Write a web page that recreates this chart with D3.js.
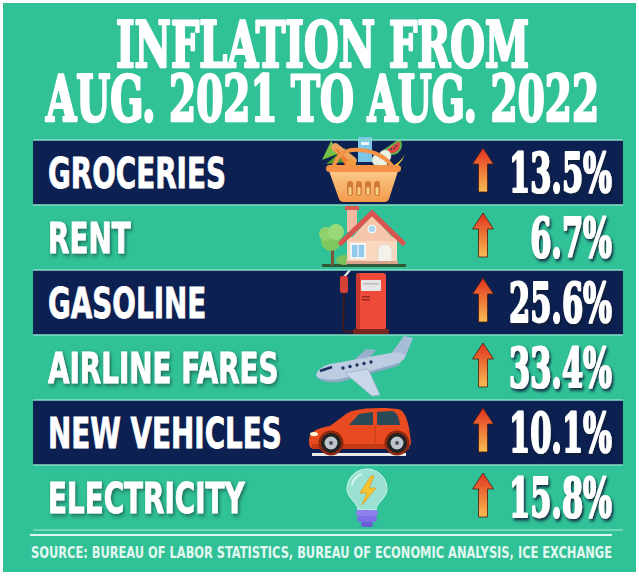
<!DOCTYPE html>
<html>
<head>
<meta charset="utf-8">
<script src="https://cdn.jsdelivr.net/npm/d3@7"></script>
<style>
  body { margin: 0; background: #fff; }
  svg { display: block; }
</style>
</head>
<body>
<div id="chart"></div>
<script>
// inflation infographic, aug 2021 -> aug 2022

const titleLines = ["INFLATION FROM", "AUG. 2021 TO AUG. 2022"];
const categories = ["GROCERIES", "RENT", "GASOLINE", "AIRLINE FARES", "NEW VEHICLES", "ELECTRICITY"];
const changes = [13.5, 6.7, 25.6, 33.4, 10.1, 15.8];
const sourceNote = "SOURCE: BUREAU OF LABOR STATISTICS, BUREAU OF ECONOMIC ANALYSIS, ICE EXCHANGE";

const W = 639, H = 576;
const green = "#31c197", navy = "#0c2151";
const slabFont = "'DejaVu Serif Condensed', 'DejaVu Serif', 'Liberation Serif', serif";
const sansFont = "'DejaVu Sans Condensed', 'DejaVu Sans', 'Liberation Sans', sans-serif";

const svg = d3.select("#chart").append("svg").attr("width", W).attr("height", H);
const defs = svg.append("defs");

const arrowGrad = defs.append("linearGradient").attr("id", "arrowGrad").attr("x1", 0).attr("y1", 0).attr("x2", 0).attr("y2", 1);
arrowGrad.append("stop").attr("offset", "0%").attr("stop-color", "#e2321e");
arrowGrad.append("stop").attr("offset", "100%").attr("stop-color", "#f8bd52");

const basketGrad = defs.append("linearGradient").attr("id", "basketGrad").attr("x1", 0).attr("y1", 0).attr("x2", 0).attr("y2", 1);
basketGrad.append("stop").attr("offset", "0%").attr("stop-color", "#fcc98a");
basketGrad.append("stop").attr("offset", "100%").attr("stop-color", "#f39a4c");

const valShadow = defs.append("filter").attr("id", "valShadow").attr("x", "-20%").attr("y", "-20%").attr("width", "150%").attr("height", "150%");
valShadow.append("feDropShadow").attr("dx", 2.5).attr("dy", 2.5).attr("stdDeviation", 1.5).attr("flood-color", "#0d1f3a").attr("flood-opacity", 0.9);
const lblShadow = defs.append("filter").attr("id", "lblShadow").attr("x", "-20%").attr("y", "-20%").attr("width", "150%").attr("height", "150%");
lblShadow.append("feDropShadow").attr("dx", 2).attr("dy", 2).attr("stdDeviation", 2).attr("flood-color", "#0d2a2a").attr("flood-opacity", 0.6);

// backdrop
svg.append("rect").attr("x", 3).attr("y", 3).attr("width", 633).attr("height", 569).attr("fill", green);

// title - heavy slab look: bold face plus a white stroke
svg.selectAll(".title").data(titleLines).enter().append("text")
  .attr("class", "title")
  .attr("x", (d, i) => i ? 46 : 116)
  .attr("y", (d, i) => i ? 121 : 67)
  .attr("textLength", (d, i) => i ? 553 : 413)
  .attr("lengthAdjust", "spacingAndGlyphs")
  .style("font-family", slabFont).style("font-stretch", "condensed").style("font-weight", "bold")
  .style("font-size", "63px").attr("fill", "#fff")
  .attr("stroke", "#fff").attr("stroke-width", 2.6).attr("stroke-linejoin", "round")
  .text(d => d);

// rows
const y = d3.scaleBand().domain(categories).range([140, 530]).padding(0);
const bw = y.bandwidth();

const rows = svg.selectAll(".row").data(categories.map((c, i) => ({ cat: c, value: changes[i], i })))
  .enter().append("g").attr("class", "row").attr("transform", d => `translate(0,${y(d.cat)})`);

rows.filter(d => d.i % 2 === 0).append("rect")
  .attr("x", 33).attr("y", 0).attr("width", 590).attr("height", bw).attr("fill", navy);

svg.selectAll(".sep").data(d3.range(categories.length + 1)).enter().append("rect")
  .attr("x", 33).attr("width", 590).attr("height", 1.5)
  .attr("y", k => (k < categories.length ? y(categories[k]) : y.range()[1]) - 0.75)
  .attr("fill", "#86dcc6");

const labels = rows.append("text")
  .style("font-family", sansFont).style("font-stretch", "condensed").style("font-weight", "bold").style("font-size", "42px")
  .attr("fill", "#fff").attr("stroke", "#fff").attr("stroke-width", 0.8)
  .attr("filter", d => d.i % 2 ? "url(#lblShadow)" : null)
  .text(d => d.cat);
// squeeze labels to the reference's condensed face (GROCERIES spans ~180px)
const lblSx = 178 / labels.node().getComputedTextLength();
labels.attr("transform", `translate(48,${bw / 2 + 15.5}) scale(${lblSx},1)`);

rows.append("path")
  .attr("d", "M483,8 L493.5,24 L487.5,24 L487.5,52 L478.5,52 L478.5,24 L472.5,24 Z")
  .attr("fill", "url(#arrowGrad)").attr("stroke", "#4a1c10").attr("stroke-width", 0.8);

const vals = rows.append("text")
  .attr("text-anchor", "end")
  .style("font-family", slabFont).style("font-stretch", "condensed").style("font-weight", "bold")
  .style("font-size", "55px").attr("fill", "#fff")
  .attr("stroke", "#fff").attr("stroke-width", 2.2).attr("stroke-linejoin", "round")
  .attr("filter", "url(#valShadow)")
  .text(d => d3.format(".1f")(d.value) + "%");
const valSx = 103 / vals.node().getComputedTextLength();
vals.attr("transform", `translate(612,${bw / 2 + 19.5}) scale(${valSx},1)`);

// icons (local coords relative to row top)
function basket(g) {
  g.append("path").attr("d", "M322,20 L331,1 L340,13 Z").attr("fill", "#74c043");
  g.append("path").attr("d", "M326,24 L345,8 L347,22 Z").attr("fill", "#4f9a2c");
  g.append("g").attr("transform", "translate(344,14) rotate(38)")
    .append("rect").attr("x", -15).attr("y", -4).attr("width", 30).attr("height", 8).attr("rx", 4).attr("fill", "#e9a45e");
  g.append("path").attr("d", "M334,6 L352,24 L346,27 Z").attr("fill", "#f07b2a");
  g.append("circle").attr("cx", 351).attr("cy", 24).attr("r", 5).attr("fill", "#f39a3e");
  g.append("rect").attr("x", 358).attr("y", -3).attr("width", 14).attr("height", 25).attr("fill", "#7cc7e8");
  g.append("rect").attr("x", 361).attr("y", 2).attr("width", 8).attr("height", 3).attr("fill", "#eaf6fb");
  const wm = g.append("g").attr("transform", "translate(392,5) rotate(-35)");
  wm.append("path").attr("d", "M-9,0 A9,9 0 0 0 9,0 Z").attr("fill", "#e34b4b").attr("stroke", "#5fb04a").attr("stroke-width", 2);
  [[-3, 3], [0, 4], [3, 3]].forEach(p => wm.append("circle").attr("cx", p[0]).attr("cy", p[1]).attr("r", 0.8).attr("fill", "#222"));
  [[378, 20, 6], [385, 16, 6], [382, 24, 5]].forEach(p => g.append("circle").attr("cx", p[0]).attr("cy", p[1]).attr("r", p[2]).attr("fill", "#eef2e6").attr("stroke", "#cfd8c0").attr("stroke-width", 0.6));
  g.append("path").attr("d", "M385,27 Q398,27 405,14 Q401,26 388,31 Z").attr("fill", "#f3cf3c");
  g.append("path").attr("d", "M333,29 Q338,8 360,10 Q384,12 394,29").attr("fill", "none").attr("stroke", "#f29447").attr("stroke-width", 4);
  g.append("path").attr("d", "M329,31 L398,31 L389,59 Q388,62 384,62 L344,62 Q340,62 339,59 Z").attr("fill", "url(#basketGrad)");
  g.append("rect").attr("x", 326).attr("y", 25).attr("width", 75).attr("height", 7).attr("rx", 3.5).attr("fill", "#f39245");
  [347, 356, 365, 374].forEach(x => {
    g.append("rect").attr("x", x).attr("y", 41).attr("width", 6).attr("height", 15).attr("rx", 3).attr("fill", "#d27a38");
    g.append("rect").attr("x", x + 1.5).attr("y", 47).attr("width", 3).attr("height", 8).attr("rx", 1.5).attr("fill", "#f6d27a");
  });
}

function house(g) {
  g.append("rect").attr("x", 322).attr("y", 59).attr("width", 84).attr("height", 3).attr("fill", "#2e5a35");
  g.append("rect").attr("x", 331).attr("y", 38).attr("width", 3).attr("height", 22).attr("fill", "#7a5535");
  g.append("circle").attr("cx", 331).attr("cy", 36).attr("r", 10).attr("fill", "#7fc860");
  g.append("circle").attr("cx", 326).attr("cy", 29).attr("r", 7).attr("fill", "#8fd16d");
  g.append("circle").attr("cx", 336).attr("cy", 27).attr("r", 8).attr("fill", "#9ad978");
  g.append("ellipse").attr("cx", 344).attr("cy", 55).attr("rx", 8).attr("ry", 5).attr("fill", "#7cc25c");
  g.append("rect").attr("x", 347).attr("y", 3).attr("width", 10).attr("height", 24).attr("fill", "#f2b8a0");
  g.append("rect").attr("x", 345).attr("y", 1).attr("width", 14).attr("height", 4).attr("fill", "#d35a4f");
  g.append("rect").attr("x", 347).attr("y", 32).attr("width", 50).attr("height", 26).attr("fill", "#fad7bf");
  g.append("path").attr("d", "M349,36 L372,10 L396,36 Z").attr("fill", "#f6c6ab");
  g.append("path").attr("d", "M341,38 L372,8 L403,38").attr("fill", "none").attr("stroke", "#d9534f").attr("stroke-width", 5).attr("stroke-linecap", "round");
  g.append("circle").attr("cx", 372).attr("cy", 24).attr("r", 4).attr("fill", "#a9d8f0").attr("stroke", "#fff").attr("stroke-width", 1);
  g.append("rect").attr("x", 351).attr("y", 39).attr("width", 14).attr("height", 14).attr("fill", "#90c9ec").attr("stroke", "#fff").attr("stroke-width", 1.5);
  g.append("rect").attr("x", 357.5).attr("y", 39).attr("width", 1).attr("height", 14).attr("fill", "#fff");
  g.append("path").attr("d", "M378,58 L378,43 Q385,35 392,43 L392,58 Z").attr("fill", "#f4f0ea").attr("stroke", "#e3d6ca");
  g.append("rect").attr("x", 346).attr("y", 56).attr("width", 52).attr("height", 3).attr("fill", "#d7a58a");
}

function pump(g) {
  g.append("path").attr("d", "M344,22 L343,58 Q343,62 350,62 L356,62").attr("fill", "none").attr("stroke", "#3b1d1d").attr("stroke-width", 2);
  g.append("line").attr("x1", 344).attr("y1", 7).attr("x2", 350).attr("y2", 0).attr("stroke", "#eee").attr("stroke-width", 2);
  g.append("rect").attr("x", 340).attr("y", 6).attr("width", 8).attr("height", 17).attr("rx", 2).attr("fill", "#d84236");
  g.append("rect").attr("x", 356).attr("y", 3).attr("width", 30).attr("height", 57).attr("rx", 3).attr("fill", "#ee4b3b");
  g.append("rect").attr("x", 356).attr("y", 4).attr("width", 4).attr("height", 55).attr("fill", "#c73a2d");
  g.append("rect").attr("x", 361).attr("y", 10).attr("width", 20).attr("height", 11).attr("rx", 1).attr("fill", "#e5e5e5");
  g.append("rect").attr("x", 363).attr("y", 13).attr("width", 16).attr("height", 1.5).attr("fill", "#bbb");
  g.append("rect").attr("x", 362).attr("y", 26).attr("width", 8).attr("height", 1.5).attr("fill", "#9d2a20");
  g.append("rect").attr("x", 362).attr("y", 29).attr("width", 8).attr("height", 1.5).attr("fill", "#9d2a20");
  g.append("rect").attr("x", 353).attr("y", 59).attr("width", 36).attr("height", 5).attr("rx", 1).attr("fill", "#7a2620");
}

function plane(g) {
  g.append("path").attr("d", "M352,27 L366,14 L376,15 L368,25 Z").attr("fill", "#98afcc");
  g.append("path").attr("d", "M390,20 L404,1 L413,3 L404,25 Z").attr("fill", "#a7bcd6");
  g.append("path").attr("d", "M316,40 C318,33 326,29 336,28 L396,17 L406,20 L400,28 L340,45 C330,47 318,46 316,40 Z").attr("fill", "#bccde2");
  g.append("path").attr("d", "M318,43 C326,45 334,45 340,44 L400,28 L398,31 L340,47 C330,48 322,47 318,43 Z").attr("fill", "#8fa7c4");
  g.append("path").attr("d", "M345,38 L368,34 L380,60 L372,61 Z").attr("fill", "#c9d7e8").attr("stroke", "#9fb3cc").attr("stroke-width", 0.8);
  g.append("line").attr("x1", 320).attr("y1", 36).attr("x2", 332).attr("y2", 32).attr("stroke", "#1c2d5e").attr("stroke-width", 2.5);
  [0, 1, 2, 3, 4].forEach(k => g.append("circle").attr("cx", 343 + 7 * k).attr("cy", 33 - 1.5 * k).attr("r", 1.7).attr("fill", "#1e3264"));
}

function car(g) {
  g.append("rect").attr("x", 312).attr("y", 53).attr("width", 94).attr("height", 3).attr("fill", "#e8e8e8");
  g.append("path").attr("d", "M309,40 C309,32 317,28 330,26 L346,14 C353,9 366,8 386,8 L398,9 C404,10 407,18 409,28 L411,42 C411,47 407,49 401,49 L315,49 C310,49 309,46 309,40 Z").attr("fill", "#ea4a1f");
  g.append("path").attr("d", "M349,25 L359,14 L373,12 L373,25 Z").attr("fill", "#2b4a58");
  g.append("path").attr("d", "M377,12 L392,11 C397,12 399,18 400,25 L377,25 Z").attr("fill", "#2b4a58");
  g.append("rect").attr("x", 312).attr("y", 44).attr("width", 97).attr("height", 5).attr("fill", "#c33a15");
  g.append("line").attr("x1", 375).attr("y1", 26).attr("x2", 375).attr("y2", 46).attr("stroke", "#c43a15").attr("stroke-width", 1);
  g.append("ellipse").attr("cx", 314).attr("cy", 34).attr("rx", 4).attr("ry", 2).attr("fill", "#fff6d5");
  [331, 397].forEach(cx => {
    g.append("circle").attr("cx", cx).attr("cy", 43).attr("r", 12.5).attr("fill", "#8f2810");
    g.append("circle").attr("cx", cx).attr("cy", 43).attr("r", 10).attr("fill", "#222");
    g.append("circle").attr("cx", cx).attr("cy", 43).attr("r", 6.5).attr("fill", "#bfc5cc");
    g.append("circle").attr("cx", cx).attr("cy", 43).attr("r", 2).attr("fill", "#555");
  });
}

function bulb(g) {
  g.append("path").attr("d", "M358,45 C358,38 347,33 347,24 A20,20 0 1 1 387,24 C387,33 376,38 376,45 Z")
    .attr("fill", "#aee6dc").attr("fill-opacity", 0.85).attr("stroke", "#cdf2ec").attr("stroke-width", 1);
  g.append("path").attr("d", "M352,20 A15,15 0 0 1 362,9").attr("fill", "none").attr("stroke", "#fff").attr("stroke-opacity", 0.6).attr("stroke-width", 2);
  g.append("path").attr("d", "M371,11 L360,28 L367,28 L362,40 L376,23 L369,23 L374,11 Z").attr("fill", "#f6c431").attr("stroke", "#e79b1c").attr("stroke-width", 0.8);
  g.append("rect").attr("x", 356).attr("y", 45).attr("width", 22).attr("height", 6).attr("rx", 3).attr("fill", "#8f80f2");
  g.append("rect").attr("x", 357).attr("y", 51).attr("width", 20).attr("height", 6).attr("rx", 3).attr("fill", "#7e6fe6");
  g.append("rect").attr("x", 361).attr("y", 57).attr("width", 12).attr("height", 5).attr("rx", 2.5).attr("fill", "#6a5dd6");
}

const iconDrawers = [basket, house, pump, plane, car, bulb];
rows.each(function (d) { iconDrawers[d.i](d3.select(this).append("g")); });

// footer
svg.append("rect").attr("x", 30).attr("y", 534).attr("width", 582).attr("height", 2).attr("fill", "#dcf5ed");
svg.append("text")
  .attr("x", 31).attr("y", 558).attr("textLength", 581).attr("lengthAdjust", "spacingAndGlyphs")
  .style("font-family", sansFont).style("font-stretch", "condensed").style("font-weight", "bold").style("font-size", "16px")
  .attr("fill", "#e2f7f0")
  .text(sourceNote);
</script>
</body>
</html>
